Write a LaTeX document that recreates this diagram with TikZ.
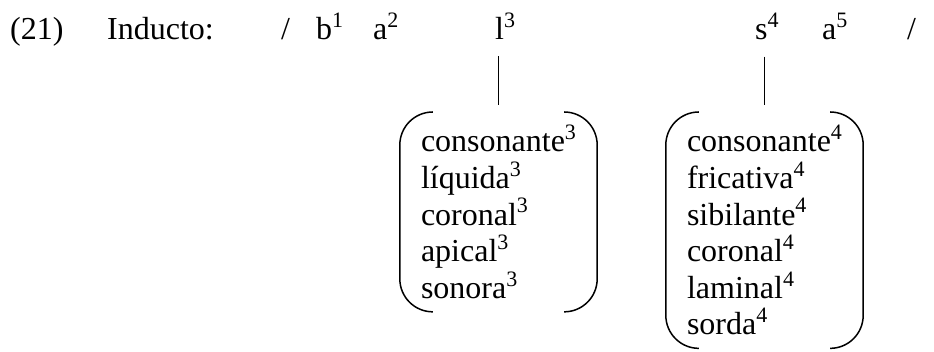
\documentclass[tikz,border=0pt]{standalone}
\usepackage{fontspec}
\setmainfont{Liberation Serif}
\usetikzlibrary{positioning}
\newcommand\ix[1]{\raisebox{0.38em}{\fontsize{22}{22}\selectfont #1}}

\begin{document}
\begin{tikzpicture}[
    x=1pt, y=1pt,
    font=\fontsize{32}{36.6}\selectfont,
    seg/.style={inner sep=0pt, anchor=base west},
    feat/.style={align=left, anchor=north, inner xsep=21pt, inner ysep=13pt},
    brk/.style={line width=1.5pt, rounded corners=33pt},
    stem/.style={line width=1pt}
]
\useasboundingbox (0,0) rectangle (934,-352);
\node[seg] (ex)    at (10,-40)  {(21)};
\node[seg] (inp)   at (107,-40) {Inducto:};
\node[seg] (sla)   at (281,-40) {/};
\node[seg] (segb)  at (316,-40) {b\ix{1}};
\node[seg] (sega)  at (373,-40) {a\ix{2}};
\node[seg] (segl)  at (495,-40) {l\ix{3}};
\node[seg] (segs)  at (755,-40) {s\ix{4}};
\node[seg] (segaa) at (822,-40) {a\ix{5}};
\node[seg] (slb)   at (907,-40) {/};
\node[feat] (featl) at (498.5,-112) {consonante\ix{3}\\líquida\ix{3}\\coronal\ix{3}\\apical\ix{3}\\sonora\ix{3}};
\node[feat] (featr) at (764.5,-112) {consonante\ix{4}\\fricativa\ix{4}\\sibilante\ix{4}\\coronal\ix{4}\\laminal\ix{4}\\sorda\ix{4}};
\draw[stem] ([yshift=-16pt]segl.south -| featl.north) -- ([yshift=7pt]featl.north);
\draw[stem] ([yshift=-16pt]segs.south -| featr.north) -- ([yshift=7pt]featr.north);
\draw[brk] ([xshift=33pt]featl.north west) -- (featl.north west) -- (featl.south west) -- ([xshift=33pt]featl.south west);
\draw[brk] ([xshift=-33pt]featl.north east) -- (featl.north east) -- (featl.south east) -- ([xshift=-33pt]featl.south east);
\draw[brk] ([xshift=33pt]featr.north west) -- (featr.north west) -- (featr.south west) -- ([xshift=33pt]featr.south west);
\draw[brk] ([xshift=-33pt]featr.north east) -- (featr.north east) -- (featr.south east) -- ([xshift=-33pt]featr.south east);
\end{tikzpicture}
\end{document}
